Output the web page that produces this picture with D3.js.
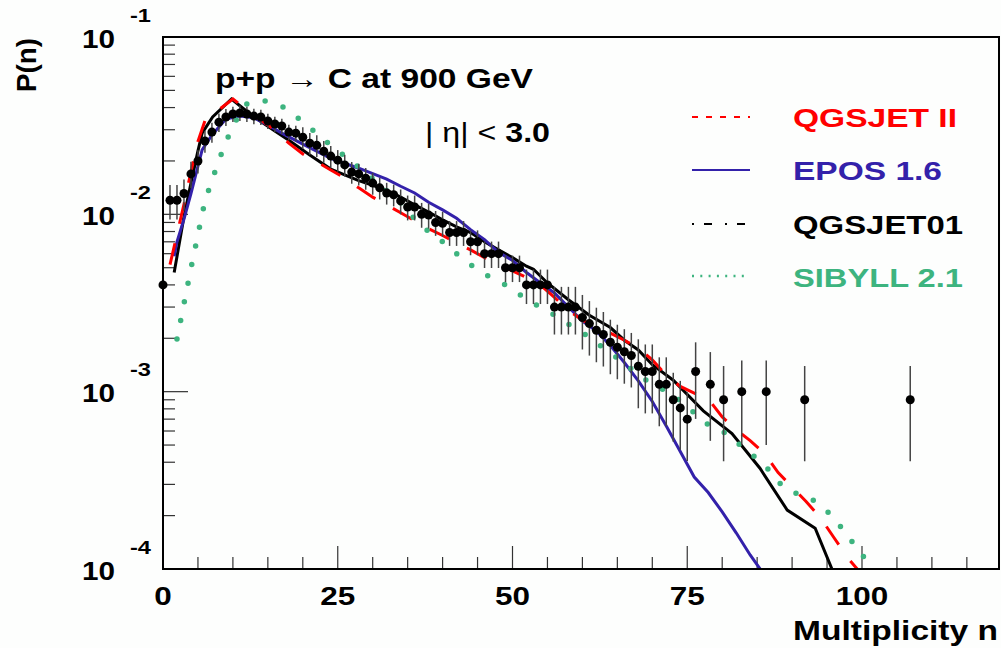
<!DOCTYPE html>
<html>
<head>
<meta charset="utf-8">
<script src="https://d3js.org/d3.v7.min.js"></script>
<style>
  body { margin: 0; background: #fdfefd; }
  text { font-family: "Liberation Sans", Arial, Helvetica, sans-serif; }
</style>
</head>
<body>
<script>
// multiplicity distribution, p+p -> C at 900 GeV, |eta| < 3.0

// measured points (n, P(n), relative error)
var dataN = [0,1,2,3,4,5,6,7,8,9,10,11,12,13,14,15,16,17,18,19,20,21,22,23,24,25,26,27,28,29,
  30,31,32,33,34,35,36,37,38,39,40,41,42,43,44,45,46,47,48,49,50,51,52,53,54,55,56,57,58,59,
  60,61,62,63,64,65,66,67,68,69,70,71,72,73,74,75,76.2,78.3,80.2,82.8,86.3,91.8,106.9];
var dataP = [0.0040,0.0120,0.0120,0.0131,0.0169,0.0200,0.0259,0.0291,0.0331,0.0354,
  0.0368,0.0373,0.0368,0.0358,0.0354,0.0336,0.0323,0.0315,0.0291,0.0287,
  0.0272,0.0252,0.0245,0.0227,0.0213,0.0202,0.0190,0.0173,0.0169,0.0160,
  0.0150,0.0141,0.0132,0.0129,0.0119,0.0110,0.0110,0.0100,0.0099,0.0090,
  0.0089,0.0079,0.0079,0.0079,0.0070,0.0070,0.0060,0.0060,0.0060,0.0050,
  0.0050,0.0050,0.0040,0.0040,0.0040,0.0040,0.0030,0.0030,0.0030,0.0030,
  0.00262,0.00242,0.00222,0.00210,0.00190,0.00178,0.00168,0.00160,0.00139,0.00130,
  0.00130,0.00110,0.00110,0.00090,0.00081,0.00070,
  0.0013,0.0011,0.0009,0.0010,0.0010,0.0009,0.0009];
var dataRelErr = [0.20,0.22,0.22,0.20,0.17,0.15,0.14,0.13,0.12,0.11,
  0.10,0.10,0.10,0.10,0.10,0.10,0.10,0.10,0.10,0.10,
  0.14,0.14,0.14,0.14,0.14,0.14,0.14,0.14,0.14,0.14,
  0.14,0.14,0.14,0.14,0.16,0.16,0.16,0.16,0.16,0.16,
  0.16,0.16,0.16,0.16,0.16,0.16,0.17,0.17,0.17,0.17,
  0.17,0.17,0.22,0.22,0.22,0.22,0.30,0.30,0.30,0.30,
  0.34,0.34,0.34,0.34,0.34,0.34,0.34,0.34,0.42,0.42,
  0.42,0.42,0.42,0.42,0.42,0.42,
  0.46,0.52,0.55,0.50,0.50,0.55,0.55];

// QGSJET II
var qgs2N = [1,2,3,4,5,6,8,10,12,14,16,18,20,22,24,26,28,30,32,34,36,38,40,42,44,46,48,50,
  52,54,56,58,60,62,64,66,68,70,72,74,76,78,80,82,84,86,88,90,92,94,96,98,100];
var qgs2P = [0.0052,0.0077,0.0114,0.0174,0.0258,0.0337,0.0389,0.0447,0.0388,0.0340,
  0.0299,0.0252,0.0219,0.0198,0.0178,0.0160,0.0141,0.0125,0.0113,0.0102,
  0.0092,0.0083,0.0076,0.0069,0.0063,0.0057,0.0052,0.0048,0.0044,0.0040,
  0.0034,0.00288,0.00253,0.00231,0.00214,0.00195,0.00176,0.00151,0.00124,0.00107,
  0.00098,0.00091,0.00072,0.00061,0.00053,0.00045,0.00035,0.00029,0.00024,0.000196,
  0.000150,0.000115,0.000093];

// EPOS 1.6
var eposN = [1.6,2,3,4,5,5.6,7,9,11,13,15,17,20,24,28,32,34,36,38,40,42,44,46,48,50,
  52,54,56,58,60,62,64,66,68,70,72,74,76,78,80,82,84,86];
var eposP = [0.0058,0.0070,0.0094,0.0131,0.0187,0.0231,0.0280,0.0345,0.0358,0.0350,
  0.0319,0.0287,0.0249,0.0207,0.0182,0.0158,0.0144,0.0132,0.0117,0.0106,
  0.0095,0.0082,0.0072,0.0061,0.0055,0.0047,0.0041,0.0036,0.0030,0.0025,
  0.0022,0.00182,0.00146,0.00115,0.00088,0.00064,0.00046,0.00033,0.00027,0.00021,
  0.00016,0.00012,0.000093];

// QGSJET01
var q01N = [1.6,3,4,5,5.6,7.1,9.8,13,16,18,21,24,28,32,34,36,38,40,42,44,
  46,48,50,52,53,55,58,61,64,66,68,70,73,77.3,81.4,85.4,89.3,93.3,95.7,96.5];
var q01P = [0.0047,0.0097,0.0150,0.0228,0.0287,0.0354,0.0447,0.0354,0.0295,0.0262,
  0.0216,0.0180,0.0155,0.0137,0.0125,0.0113,0.0103,0.0093,0.0085,0.0079,
  0.0070,0.0063,0.0057,0.0051,0.0049,0.0041,0.0033,0.0027,0.0023,0.00195,
  0.00172,0.00142,0.00116,0.00078,0.00058,0.00037,0.000215,0.000170,0.0001,0.000085];

// SIBYLL 2.1
var sibN = [2,4,6,8,10,12,14,16,18,20,22,24,26,28,30,32,34,36,38,40,42,44,46,48,50,
  52,54,56,58,60,62,64,66,68,70,72,74,76,78,80,82,84,86,88,90,92,94,96,98,100,102];
var sibP = [0.00198,0.00496,0.0119,0.0202,0.0319,0.0419,0.0441,0.0424,0.0388,0.0331,
  0.0286,0.0245,0.0213,0.0184,0.0159,0.0136,0.0116,0.0094,0.0080,0.0070,
  0.0060,0.0052,0.0046,0.0042,0.0038,0.0033,0.0030,0.0027,0.0024,0.00216,
  0.00189,0.00165,0.00145,0.00124,0.00110,0.00101,0.00089,0.00076,0.00065,0.00060,
  0.00052,0.00045,0.00039,0.00031,0.00027,0.00026,0.00023,0.000195,0.000152,0.000122,
  0.000085];

// axis tick labels
var xTickValues = [0, 25, 50, 75, 100];
var yDecades = [1e-4, 1e-3, 1e-2, 1e-1];
var yExponents = ["-4", "-3", "-2", "-1"];

//Set margins
var margin = {top: 37, right: 2, bottom: 79, left: 163};
var width = 1001 - margin.left - margin.right;
var height = 648 - margin.top - margin.bottom;

var svg = d3.select("body")
            .append("svg")
            .attr("width", 1001)
            .attr("height", 648);

var g = svg.append("g")
           .attr("transform", "translate(" + margin.left + ", " + margin.top + ")");

var x = d3.scaleLinear().domain([0, 119.6]).range([0, width]);
var y = d3.scaleLog().domain([1e-4, 1e-1]).range([height, 0]);

var red = "#ff0000", blue = "#3321aa", green = "#3db47f";

// clip for the model curves
svg.append("defs").append("clipPath").attr("id", "plotclip")
   .append("rect").attr("width", width).attr("height", height);

// x ticks (inward)
var xMinor = d3.range(5, 120, 5);
g.selectAll(".xtick")
  .data(xMinor)
  .enter().append("line")
  .attr("x1", function(d) { return x(d); })
  .attr("x2", function(d) { return x(d); })
  .attr("y1", height)
  .attr("y2", function(d) { return d % 25 == 0 ? height - 23 : height - 12; })
  .attr("stroke", "#333").attr("stroke-width", 1.2);

// y ticks (inward, log)
var yMinor = [];
yDecades.slice(0, 3).forEach(function(dec) {
  for (var k = 2; k <= 9; k++) yMinor.push(k * dec);
});
g.selectAll(".ytick")
  .data(yMinor)
  .enter().append("line")
  .attr("x1", 0).attr("x2", 12)
  .attr("y1", function(d) { return y(d); })
  .attr("y2", function(d) { return y(d); })
  .attr("stroke", "#333").attr("stroke-width", 1.2);
g.selectAll(".ymajor")
  .data(yDecades)
  .enter().append("line")
  .attr("x1", 0).attr("x2", 25)
  .attr("y1", function(d) { return y(d); })
  .attr("y2", function(d) { return y(d); })
  .attr("stroke", "#333").attr("stroke-width", 1.2);

// tick labels
g.selectAll(".xlab")
  .data(xTickValues)
  .enter().append("text")
  .attr("x", function(d) { return x(d); })
  .attr("y", 605 - margin.top)
  .attr("text-anchor", "middle")
  .attr("font-size", 25).attr("font-weight", "bold")
  .attr("textLength", function(d) { return String(d).length * 17.5; })
  .attr("lengthAdjust", "spacingAndGlyphs")
  .text(function(d) { return d; });

g.selectAll(".ylab")
  .data(yDecades)
  .enter().append("text")
  .attr("x", 82 - margin.left)
  .attr("y", function(d) { return y(d) + 10.5; })
  .attr("font-size", 25).attr("font-weight", "bold")
  .attr("textLength", 33).attr("lengthAdjust", "spacingAndGlyphs")
  .text("10");
g.selectAll(".yexp")
  .data(yDecades)
  .enter().append("text")
  .attr("x", 130 - margin.left)
  .attr("y", function(d) { return y(d) - 15.5; })
  .attr("font-size", 19).attr("font-weight", "bold")
  .attr("textLength", 21).attr("lengthAdjust", "spacingAndGlyphs")
  .text(function(d, i) { return yExponents[i]; });

// model curves
var line = d3.line()
  .x(function(d) { return x(d[0]); })
  .y(function(d) { return y(d[1]); });

var curves = g.append("g").attr("clip-path", "url(#plotclip)").attr("fill", "none");

curves.append("path")
  .attr("d", line(d3.zip(q01N, q01P)))
  .attr("stroke", "#000").attr("stroke-width", 3);
curves.append("path")
  .attr("d", line(d3.zip(eposN, eposP)))
  .attr("stroke", blue).attr("stroke-width", 3);
curves.append("path")
  .attr("d", line(d3.zip(qgs2N, qgs2P)))
  .attr("stroke", red).attr("stroke-width", 3)
  .attr("stroke-dasharray", "22,20");
curves.append("path")
  .attr("d", line(d3.zip(sibN, sibP)))
  .attr("stroke", green).attr("stroke-width", 5.5)
  .attr("stroke-linecap", "round")
  .attr("stroke-dasharray", "0,19");

// data with error bars
var points = d3.zip(dataN, dataP, dataRelErr);
g.selectAll(".err")
  .data(points)
  .enter().append("line")
  .attr("x1", function(d) { return x(d[0]); })
  .attr("x2", function(d) { return x(d[0]); })
  .attr("y1", function(d) { return y(d[1] * (1 + d[2])); })
  .attr("y2", function(d) { return y(d[1] * (1 - d[2])); })
  .attr("stroke", "#444").attr("stroke-width", 1.5);
g.selectAll(".pt")
  .data(points)
  .enter().append("circle")
  .attr("cx", function(d) { return x(d[0]); })
  .attr("cy", function(d) { return y(d[1]); })
  .attr("r", 4.5)
  .attr("fill", "#000");

// frame
g.append("rect")
  .attr("width", width).attr("height", height)
  .attr("fill", "none").attr("stroke", "#000").attr("stroke-width", 2);

// titles
svg.append("text")
  .attr("x", 215).attr("y", 88)
  .attr("font-size", 27).attr("font-weight", "bold")
  .attr("textLength", 318).attr("lengthAdjust", "spacingAndGlyphs")
  .text("p+p \u2192 C at 900 GeV");

var eta = svg.append("text")
  .attr("x", 425).attr("y", 142)
  .attr("font-size", 27)
  .attr("textLength", 125).attr("lengthAdjust", "spacingAndGlyphs");
eta.append("tspan").text("| \u03b7| < ");
eta.append("tspan").attr("font-weight", "bold").text("3.0");

svg.append("text")
  .attr("x", 793).attr("y", 640)
  .attr("font-size", 27).attr("font-weight", "bold")
  .attr("textLength", 205).attr("lengthAdjust", "spacingAndGlyphs")
  .text("Multiplicity n");

svg.append("text")
  .attr("transform", "translate(36,92) rotate(-90)")
  .attr("font-size", 27).attr("font-weight", "bold")
  .attr("textLength", 54).attr("lengthAdjust", "spacingAndGlyphs")
  .text("P(n)");

// legend
var legendNames = ["QGSJET II", "EPOS 1.6", "QGSJET01", "SIBYLL 2.1"];
var legendStyle = [
  {color: red, dash: "6,8", w: 2, ly: 117, ty: 127, tw: 164},
  {color: blue, dash: null, w: 2, ly: 170, ty: 180, tw: 149},
  {color: "#000", dash: "2,10,8,13", w: 2, ly: 224, ty: 234, tw: 170},
  {color: green, dash: "2,6.3", w: 2.5, ly: 276, ty: 287, tw: 170}
];
legendNames.forEach(function(name, i) {
  var s = legendStyle[i];
  svg.append("line")
    .attr("x1", 692).attr("x2", 750)
    .attr("y1", s.ly).attr("y2", s.ly)
    .attr("stroke", s.color).attr("stroke-width", s.w)
    .attr("stroke-dasharray", s.dash);
  svg.append("text")
    .attr("x", 793).attr("y", s.ty)
    .attr("font-size", 26).attr("font-weight", "bold")
    .attr("fill", s.color)
    .attr("textLength", s.tw).attr("lengthAdjust", "spacingAndGlyphs")
    .text(name);
});
</script>
</body>
</html>
